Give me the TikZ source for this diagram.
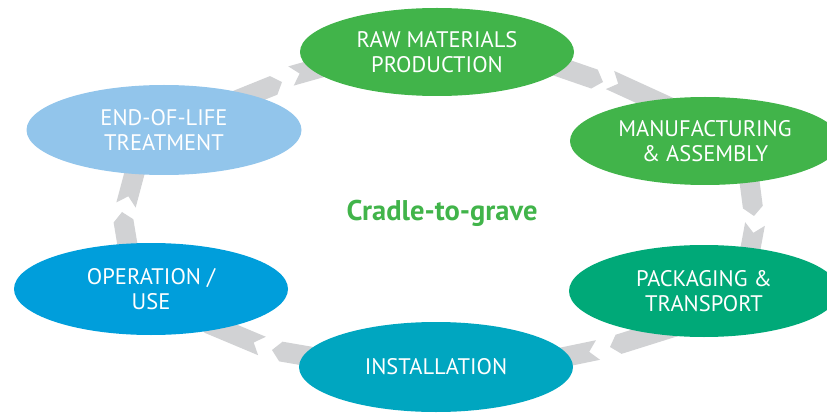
\documentclass[tikz,border=0pt]{standalone}
\usepackage{fontspec}
\setmainfont{PT Sans}
\usetikzlibrary{shapes.geometric,calc}
\definecolor{rawgreen}{RGB}{65,180,74}
\definecolor{packgreen}{RGB}{0,169,120}
\definecolor{installblue}{RGB}{0,166,192}
\definecolor{opblue}{RGB}{0,158,219}
\definecolor{eolblue}{RGB}{146,197,235}
\definecolor{arrowgray}{RGB}{209,210,212}
\newcommand{\chev}[2]{%
\coordinate (hd) at ($(#2)!9pt!(#1)$);
\fill[arrowgray] ($(#1)!10pt!90:(#2)$) -- ($(hd)!10pt!-90:(#1)$) -- (#2) -- ($(hd)!10pt!90:(#1)$) -- ($(#1)!10pt!-90:(#2)$) -- ($(#1)!9pt!(#2)$) -- cycle;}
\begin{document}
\begin{tikzpicture}[x=1pt,y=-1pt,
  stage/.style={ellipse, inner sep=0pt, align=center, text=white, font=\fontsize{22.5}{25}\selectfont},
  title/.style={font=\fontsize{28.5}{30}\selectfont\bfseries, text=rawgreen}]
\useasboundingbox (0,0) rectangle (827,414);
\clip (0,0) rectangle (827,414);

\coordinate (rm1) at (545,62);
\coordinate (rm2) at (603,82);
\coordinate (rm3) at (610,80);
\coordinate (rm4) at (680,112);
\coordinate (mp1) at (748,170);
\coordinate (mp2) at (754,216);
\coordinate (mp3) at (755,224);
\coordinate (mp4) at (748,262);
\coordinate (pi1) at (680,325);
\coordinate (pi2) at (610,347);
\coordinate (pi3) at (598,350);
\coordinate (pi4) at (540,362);
\coordinate (io1) at (330,360);
\coordinate (io2) at (272,350);
\coordinate (io3) at (262,346);
\coordinate (io4) at (200,320);
\coordinate (oe1) at (130,260);
\coordinate (oe2) at (122,212);
\coordinate (oe3) at (126,205);
\coordinate (oe4) at (138,160);
\coordinate (er1) at (225,105);
\coordinate (er2) at (282,82);
\coordinate (er3) at (291,76);
\coordinate (er4) at (330,65);

\chev{rm1}{rm2} \chev{rm3}{rm4}
\chev{mp1}{mp2} \chev{mp3}{mp4}
\chev{pi1}{pi2} \chev{pi3}{pi4}
\chev{io1}{io2} \chev{io3}{io4}
\chev{oe1}{oe2} \chev{oe3}{oe4}
\chev{er1}{er2} \chev{er3}{er4}

\node[stage, fill=rawgreen, minimum width=274, minimum height=88] (raw) at (437,52) {RAW MATERIALS\\PRODUCTION};
\node[stage, fill=rawgreen, minimum width=270, minimum height=88] (man) at (705,141) {MANUFACTURING\\\& ASSEMBLY};
\node[stage, fill=packgreen, minimum width=270, minimum height=92] (pack) at (704,291) {PACKAGING \&\\TRANSPORT};
\node[stage, fill=installblue, minimum width=274, minimum height=90] (inst) at (436,367) {INSTALLATION};
\node[stage, fill=opblue, minimum width=274, minimum height=92] (op) at (151,289) {OPERATION /\\USE};
\node[stage, fill=eolblue, minimum width=275, minimum height=90] (eol) at (164,130) {END-OF-LIFE\\TREATMENT};

\node[title] (ctg) at (442,213) {Cradle-to-grave};
\end{tikzpicture}
\end{document}
